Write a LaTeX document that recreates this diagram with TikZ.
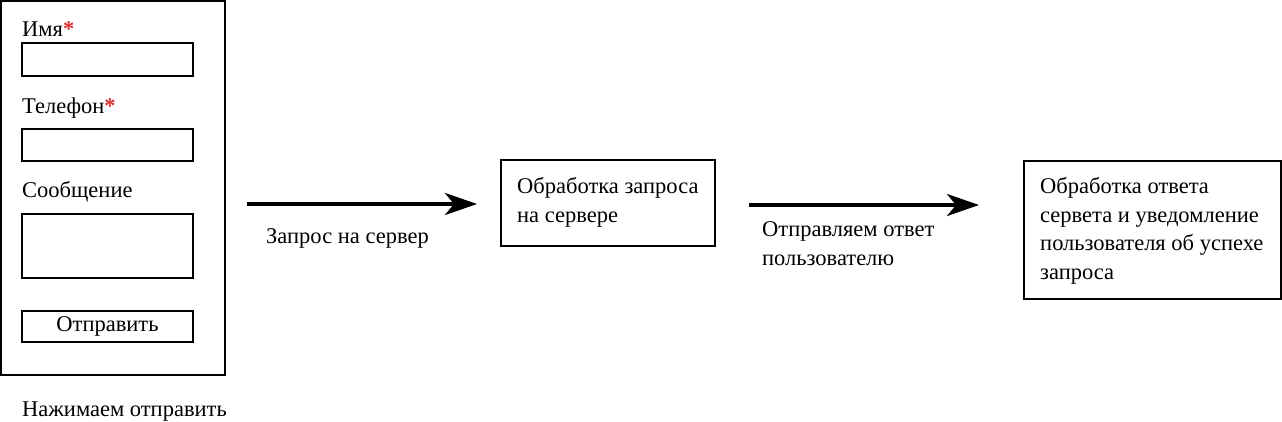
\documentclass[tikz,border=0pt]{standalone}
\usepackage{fontspec}
\setmainfont{Liberation Serif}
\usetikzlibrary{arrows.meta,calc}
\definecolor{req}{RGB}{215,45,45}
\newcommand{\reqmark}{\textcolor{req}{\textbf{*}}}
\begin{document}
\begin{tikzpicture}[x=1pt,y=-1pt,
  lbl/.style={anchor=base west, inner sep=0pt, font=\fontsize{22.5}{28.5}\selectfont, align=left},
  frame/.style={draw, line width=2.5pt, inner sep=0pt},
  field/.style={draw, line width=2pt, inner sep=0pt, minimum width=171pt, font=\fontsize{22.5}{28.5}\selectfont},
  flow/.style={line width=4pt, -{Stealth[length=32pt,width=22pt,inset=9pt]}}
]
\useasboundingbox (0,0) rectangle (1282,421);
% form
\node[frame, minimum width=224pt, minimum height=374pt] (form) at (113,188) {};
\node[lbl] (lname) at (22,36) {Имя\reqmark};
\node[field, minimum height=33pt] (fname) at (107.5,59.5) {};
\node[lbl] (lphone) at (22,113) {Телефон\reqmark};
\node[field, minimum height=32pt] (fphone) at (107.5,145) {};
\node[lbl] (lmsg) at (22,197) {Сообщение};
\node[field, minimum height=64pt] (fmsg) at (107.5,246) {};
\node[field, minimum height=31pt] (btn) at (107.5,326.5) {Отправить};
\node[lbl] (press) at (22,416) {Нажимаем отправить};
% server
\node[frame, line width=2pt, minimum width=214pt, minimum height=86pt] (server) at (608,203) {};
\node[lbl] (tserver) at (517,222) {Обработка запроса\\на сервере};
% client
\node[frame, line width=2pt, minimum width=257pt, minimum height=138pt] (client) at (1152.5,230) {};
\node[lbl] (tclient) at (1040,279) {Обработка ответа\\сервета и уведомление\\пользователя об успехе\\запроса};
% arrows
\draw[flow] ($(form.east |- server.west)+(21,1)$) -- ($(server.west)+(-23,1)$);
\node[lbl] (lreq) at (266,243) {Запрос на сервер};
\draw[flow] ($(server.east)+(33,2)$) -- ($(client.west |- server.east)+(-44,2)$);
\node[lbl] (lresp) at (762,265) {Отправляем ответ\\пользователю};
\end{tikzpicture}
\end{document}
